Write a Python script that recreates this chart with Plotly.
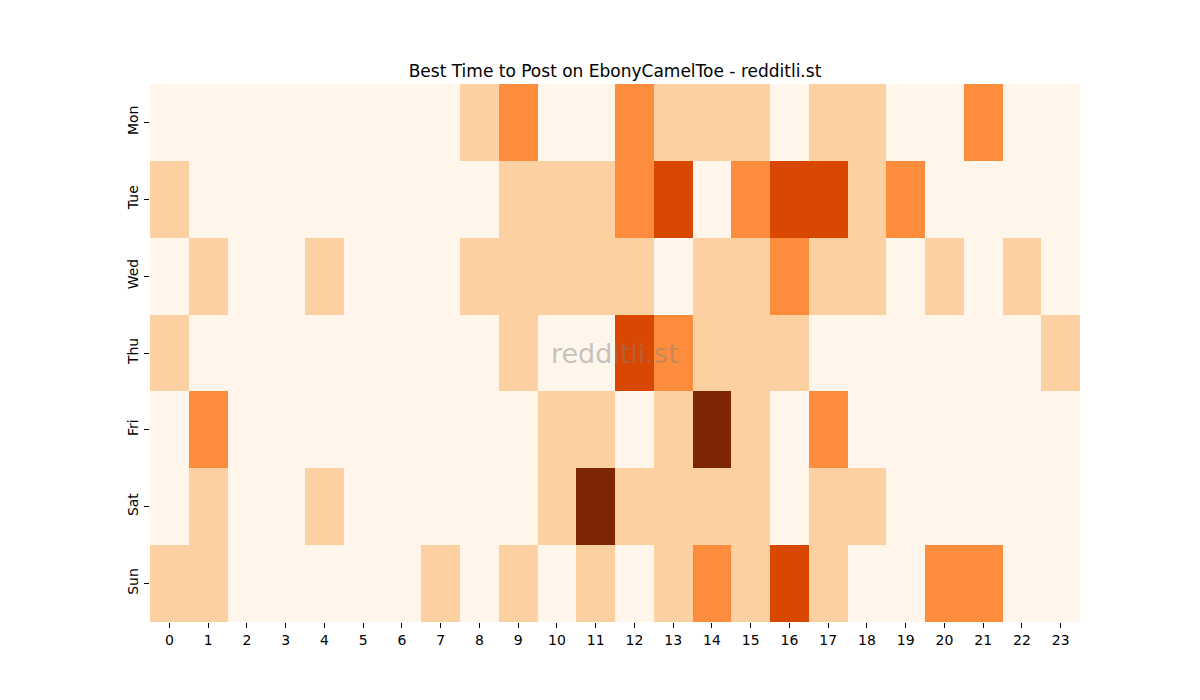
import plotly.graph_objects as go

days = ["Mon", "Tue", "Wed", "Thu", "Fri", "Sat", "Sun"]
hours = list(range(24))

mon = [0, 0, 0, 0, 0, 0, 0, 0, 1, 2, 0, 0, 2, 1, 1, 1, 0, 1, 1, 0, 0, 2, 0, 0]
tue = [1, 0, 0, 0, 0, 0, 0, 0, 0, 1, 1, 1, 2, 3, 0, 2, 3, 3, 1, 2, 0, 0, 0, 0]
wed = [0, 1, 0, 0, 1, 0, 0, 0, 1, 1, 1, 1, 1, 0, 1, 1, 2, 1, 1, 0, 1, 0, 1, 0]
thu = [1, 0, 0, 0, 0, 0, 0, 0, 0, 1, 0, 0, 3, 2, 1, 1, 1, 0, 0, 0, 0, 0, 0, 1]
fri = [0, 2, 0, 0, 0, 0, 0, 0, 0, 0, 1, 1, 0, 1, 4, 1, 0, 2, 0, 0, 0, 0, 0, 0]
sat = [0, 1, 0, 0, 1, 0, 0, 0, 0, 0, 1, 4, 1, 1, 1, 1, 0, 1, 1, 0, 0, 0, 0, 0]
sun = [1, 1, 0, 0, 0, 0, 0, 1, 0, 1, 0, 1, 0, 1, 2, 1, 3, 1, 0, 0, 2, 2, 0, 0]

z = [mon, tue, wed, thu, fri, sat, sun]

# Oranges, one band per level
levels = ["#fff5eb", "#fdd0a2", "#fd8d3c", "#d94801", "#7f2704"]
scale = []
for i, c in enumerate(levels):
    scale.append([i / 5, c])
    scale.append([(i + 1) / 5, c])

fig = go.Figure(go.Heatmap(
    z=z, x=hours, y=days,
    colorscale=scale, zmin=-0.5, zmax=4.5,
    showscale=False, xgap=0, ygap=0,
))

fig.update_layout(
    width=1200, height=700,
    margin=dict(l=142, r=128, t=76, b=86),
    paper_bgcolor="white", plot_bgcolor="white",
    font=dict(family="DejaVu Sans", size=14, color="black"),
    title=dict(text="Best Time to Post on EbonyCamelToe - redditli.st",
               x=607 / 1200, xanchor="center", y=1 - 63 / 700, yanchor="middle",
               font=dict(size=17)),
    xaxis=dict(tickmode="array", tickvals=hours, ticktext=[str(h) for h in hours],
               ticks="outside", ticklen=5, tickcolor="black", showgrid=False,
               zeroline=False, showline=False, range=[-0.5, 23.5]),
    yaxis=dict(autorange="reversed", ticks="outside", ticklen=5, tickcolor="black",
               tickangle=-90, showgrid=False, zeroline=False, showline=False),
    annotations=[dict(text="redditli.st", x=0.5, y=0.5, xref="paper", yref="paper",
                      showarrow=False, font=dict(size=27, color="rgba(128,128,128,0.45)"))],
)

fig.write_html("out.html")
